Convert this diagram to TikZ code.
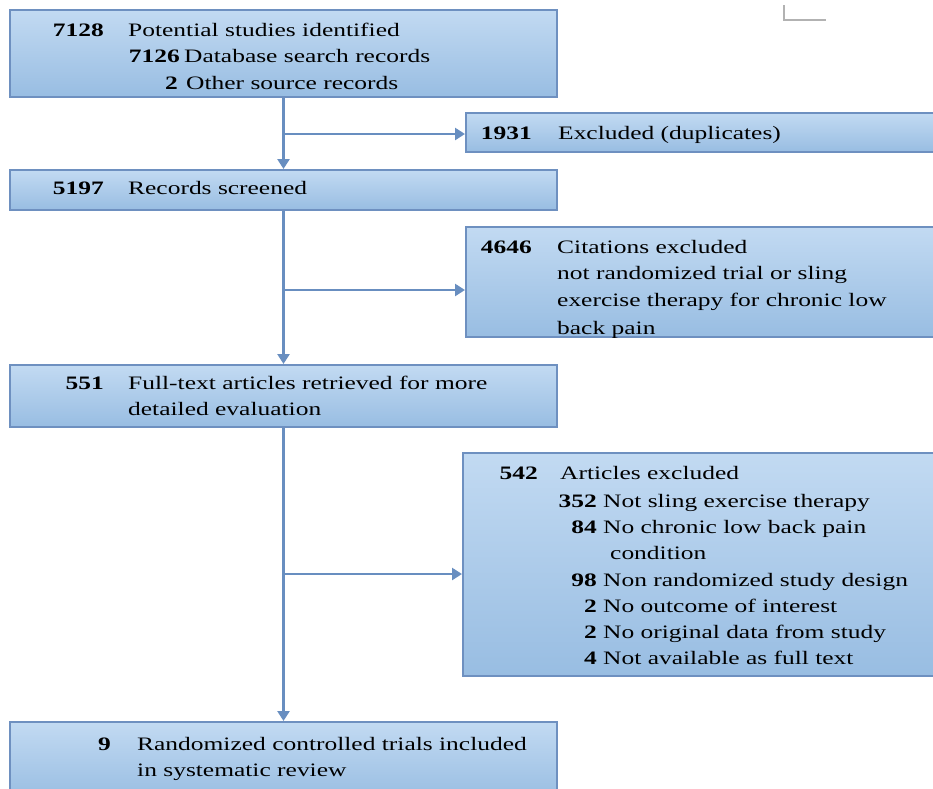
\documentclass[tikz,border=0pt]{standalone}
\usepackage{fontspec}
\setmainfont[FakeStretch=1.34]{Liberation Serif}
\usetikzlibrary{arrows.meta,calc}
\definecolor{boxtop}{RGB}{194,218,242}
\definecolor{boxbot}{RGB}{152,189,226}
\definecolor{boxline}{RGB}{110,144,192}
\definecolor{arrowc}{RGB}{104,142,192}
\begin{document}
\begin{tikzpicture}[x=1pt,y=-1pt,
  box/.style={draw=boxline, line width=2pt, top color=boxtop, bottom color=boxbot, rectangle, inner sep=0pt},
  txt/.style={anchor=base west, inner sep=0pt, font=\fontsize{19}{26}\selectfont},
  num/.style={anchor=base east, inner sep=0pt, font=\fontsize{19}{26}\selectfont\bfseries},
  conn/.style={draw=arrowc, line width=2.6pt, -{Triangle[width=12pt,length=10pt]}},
  cornermark/.style={draw=black!30, line width=1.4pt}]
\useasboundingbox (0,0) rectangle (933,788);
% boxes
\node[box, minimum width=547pt, minimum height=87pt] (b1) at (283.5,53.5) {};
\node[box, minimum width=474pt, minimum height=39pt] (e1) at (703,132.5) {};
\node[box, minimum width=547pt, minimum height=40pt] (b2) at (283.5,190) {};
\node[box, minimum width=474pt, minimum height=110pt] (e2) at (703,282) {};
\node[box, minimum width=547pt, minimum height=62pt] (b3) at (283.5,396) {};
\node[box, minimum width=477pt, minimum height=223pt] (e3) at (701.5,564.5) {};
\node[box, minimum width=547pt, minimum height=78pt] (b4) at (283.5,761) {};
% corner mark
\draw[cornermark] (784,5) -- (784,20) -- (826,20);
% texts box 1
\node[num] (n1) at (104,36.5) {7128};
\node[txt] (t1) at (128,36.5) {Potential studies identified};
\node[num] (n1b) at (180,62.5) {7126};
\node[txt] (t1b) at (184,62.5) {Database search records};
\node[num] (n1c) at (178,89) {2};
\node[txt] (t1c) at (186,89) {Other source records};
% excl 1
\node[num] (ne1) at (532,139) {1931};
\node[txt] (te1) at (558,139) {Excluded (duplicates)};
% box 2
\node[num] (n2) at (104,194.5) {5197};
\node[txt] (t2) at (128,194.5) {Records screened};
% excl 2
\node[num] (ne2) at (532,253.5) {4646};
\node[txt] (te2a) at (557,253.5) {Citations excluded};
\node[txt] (te2b) at (557,279.5) {not randomized trial or sling};
\node[txt] (te2c) at (557,306) {exercise therapy for chronic low};
\begin{scope}
\clip (e2.north west) rectangle ($(e2.south east)+(0,-1)$);
\node[txt] (te2d) at (557,334) {back pain};
\end{scope}
% box 3
\node[num] (n3) at (104,389.5) {551};
\node[txt] (t3a) at (128,389.5) {Full-text articles retrieved for more};
\node[txt] (t3b) at (128,415.5) {detailed evaluation};
% excl 3
\node[num] (ne3) at (538,479.5) {542};
\node[txt] (te3a) at (560,479.5) {Articles excluded};
\node[num] (ne3b) at (597,507.5) {352};
\node[txt] (te3b) at (603,507.5) {Not sling exercise therapy};
\node[num] (ne3c) at (597,533.5) {84};
\node[txt] (te3c) at (603,533.5) {No chronic low back pain};
\node[txt] (te3d) at (610,559.5) {condition};
\node[num] (ne3e) at (597,586.5) {98};
\node[txt] (te3e) at (603,586.5) {Non randomized study design};
\node[num] (ne3f) at (597,612.5) {2};
\node[txt] (te3f) at (603,612.5) {No outcome of interest};
\node[num] (ne3g) at (597,638.5) {2};
\node[txt] (te3g) at (603,638.5) {No original data from study};
\node[num] (ne3h) at (597,664.5) {4};
\node[txt] (te3h) at (603,664.5) {Not available as full text};
% box 4
\node[num] (n4) at (111,750.5) {9};
\node[txt] (t4a) at (137,750.5) {Randomized controlled trials included};
\node[txt] (t4b) at (137,776.5) {in systematic review};
% connectors
\coordinate (j1) at ($(b1.south)+(0,36)$);
\coordinate (j2) at ($(b2.south)+(0,79)$);
\coordinate (j3) at ($(b3.south)+(0,146)$);
\draw[conn] (b1.south) -- (b2.north);
\draw[conn] (j1) -- (j1 -| e1.west);
\draw[conn] (b2.south) -- (b3.north);
\draw[conn] (j2) -- (j2 -| e2.west);
\draw[conn] (b3.south) -- (b4.north);
\draw[conn] (j3) -- (j3 -| e3.west);
\end{tikzpicture}
\end{document}
